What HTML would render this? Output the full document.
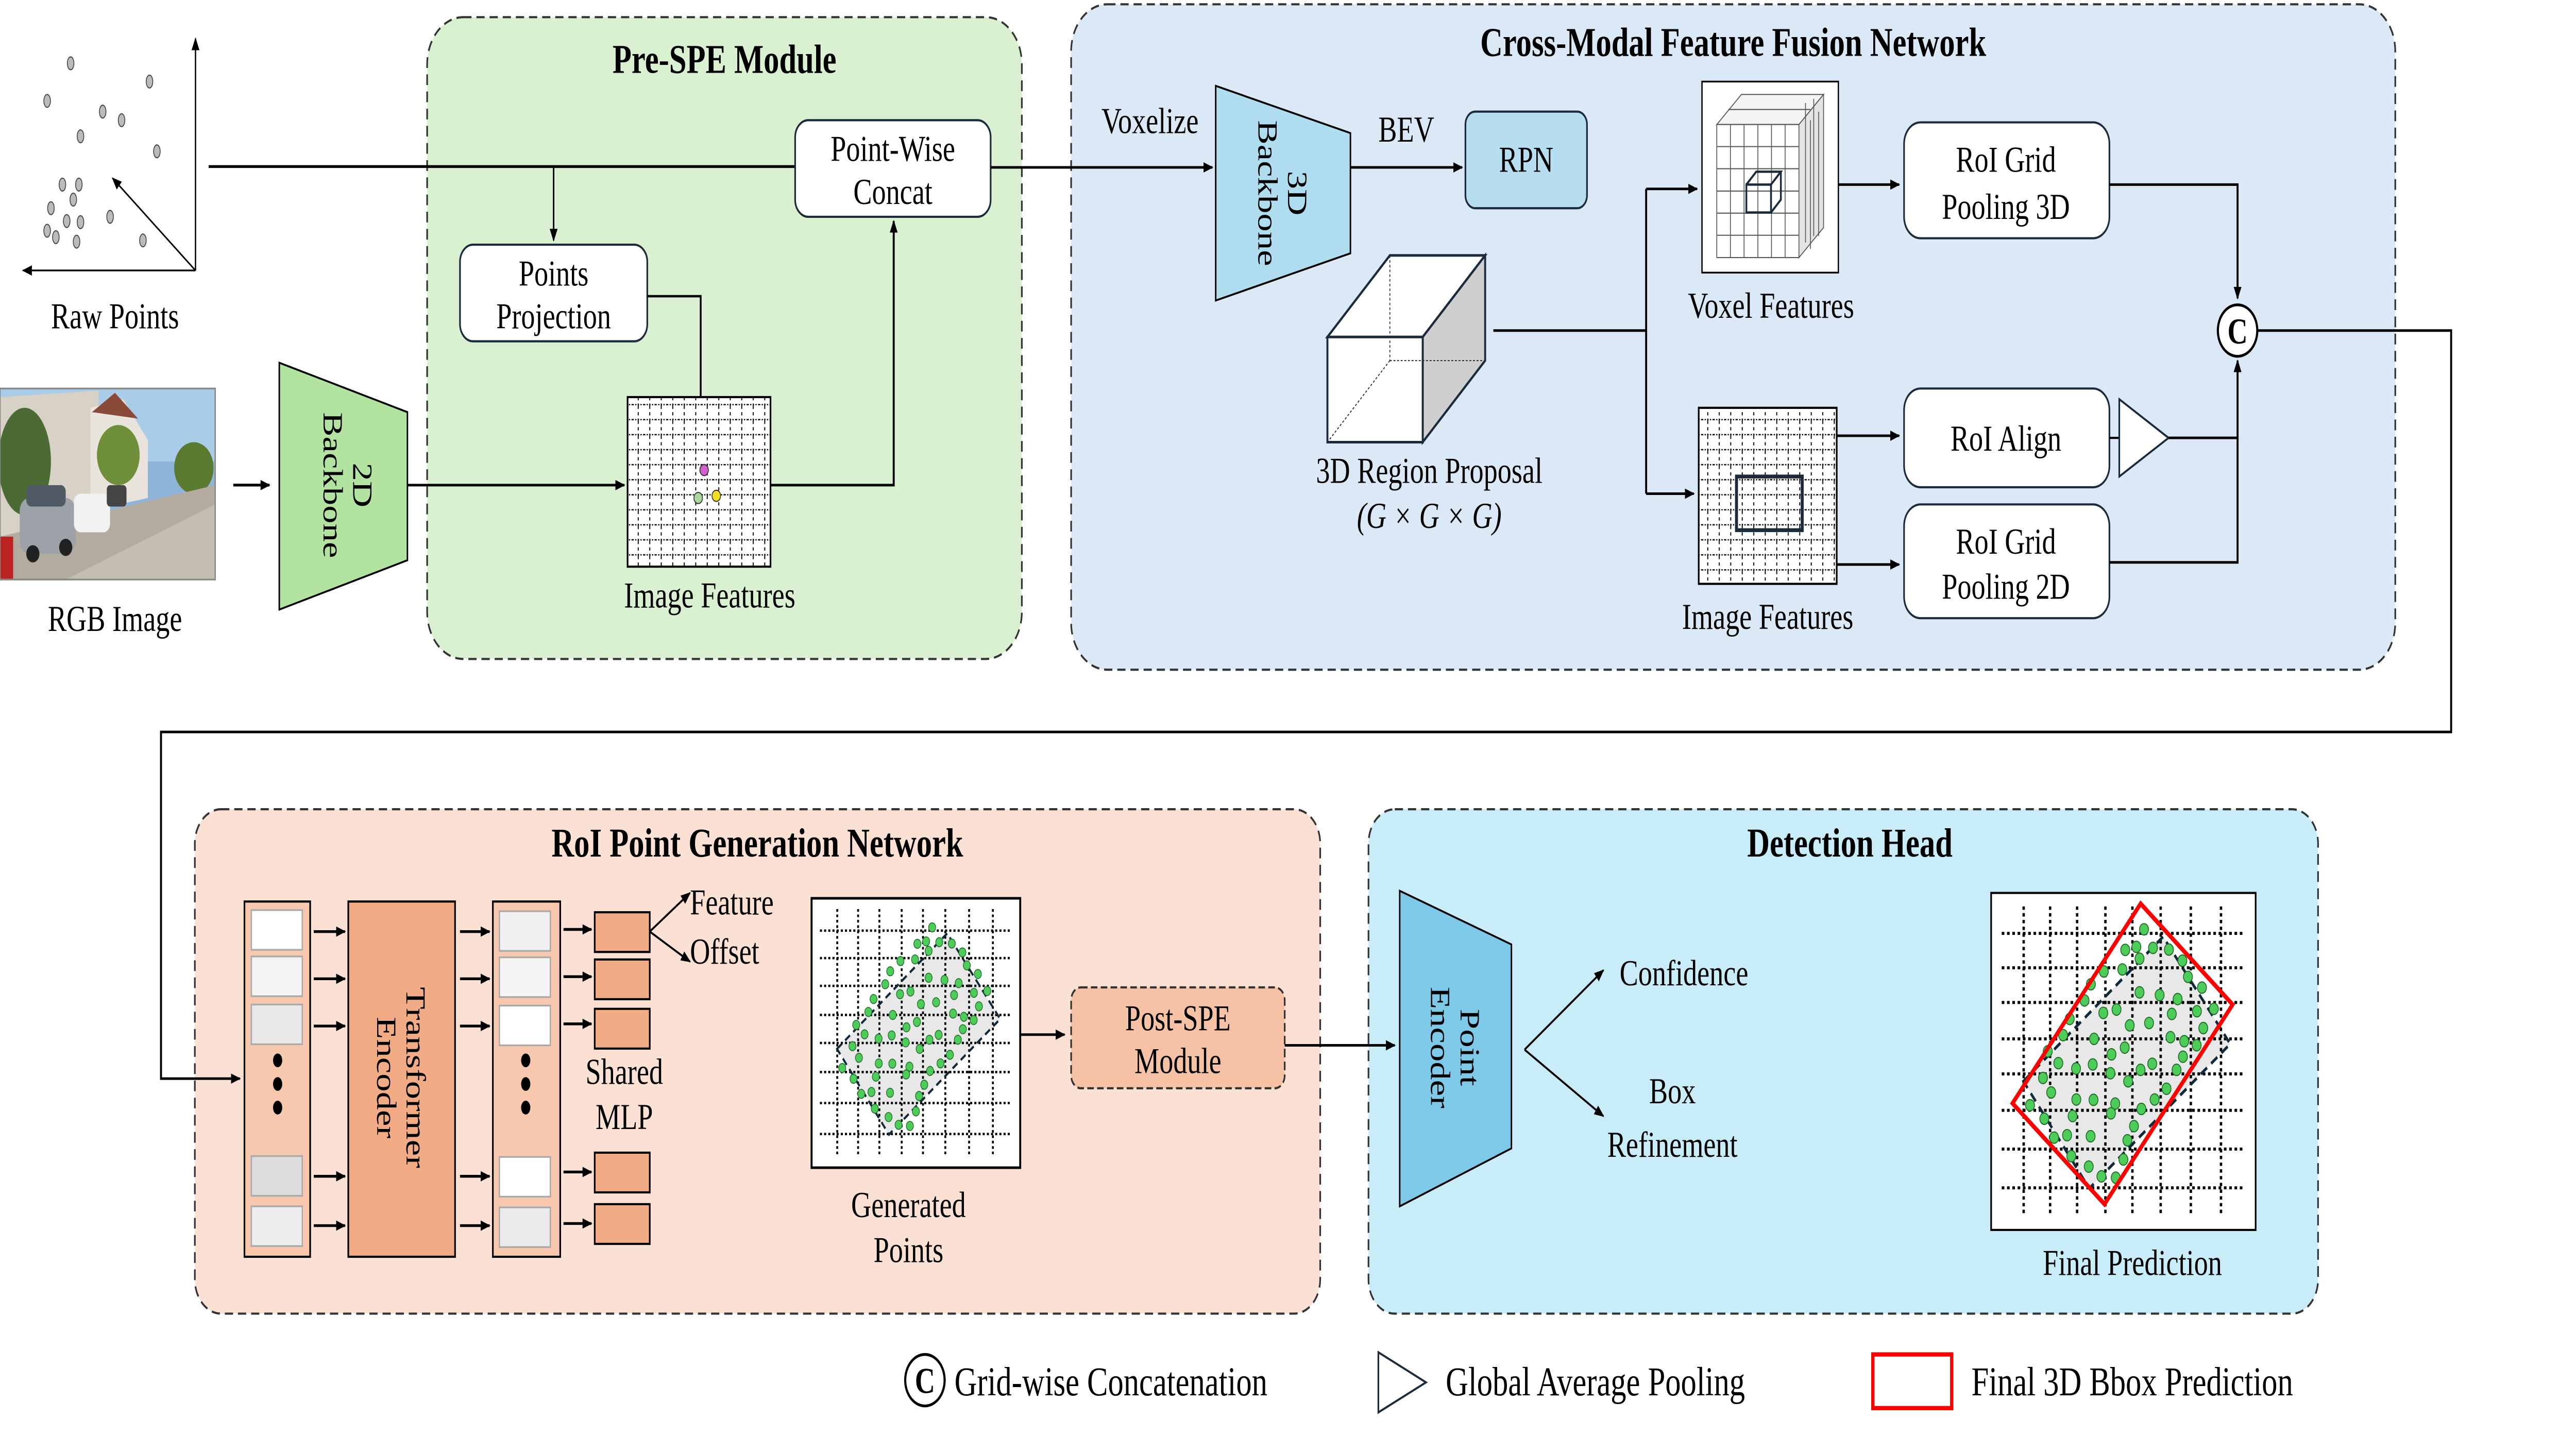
<!DOCTYPE html>
<html><head><meta charset="utf-8">
<style>
html,body{margin:0;padding:0;background:#fff;overflow:hidden;width:100%;height:100%;}
svg{display:block;width:100vw;height:100vh;}
text{font-family:"Liberation Serif",serif;fill:#000;}
.t{font-size:17px;}
.h{font-size:19px;font-weight:bold;}
</style></head>
<body>
<svg viewBox="0 0 1568 669" preserveAspectRatio="none" xmlns="http://www.w3.org/2000/svg">
<defs>
<marker id="ar" viewBox="0 0 10 10" refX="9" refY="5" markerWidth="6" markerHeight="6" orient="auto-start-reverse" markerUnits="userSpaceOnUse">
<path d="M0,1 L10,5 L0,9 z" fill="#000"/></marker>
<pattern id="fine" width="7" height="7" patternUnits="userSpaceOnUse">
<rect width="7" height="7" fill="#fff"/>
<path d="M0,6.5 H7" stroke="#000" stroke-width="0.6" stroke-dasharray="0.8 0.8"/>
<path d="M3.5,0 V7" stroke="#000" stroke-width="0.6" stroke-dasharray="1.5 1.5"/>
</pattern>
<symbol id="cloud" viewBox="0 0 100 100" preserveAspectRatio="none">
<rect x="0" y="0" width="100" height="100" fill="#fff"/>
<polygon points="12.2,55.9 65,13 90.4,44.8 37.1,87.7" fill="#e8e8e8"/>
<g stroke="#000" stroke-width="0.9" stroke-dasharray="1 1">
<path d="M12.3,4V96M22.3,4V96M32.5,4V96M43.2,4V96M53.4,4V96M64.1,4V96M75.5,4V96M86.9,4V96"/>
<path d="M4,12H95M4,22.2H95M4,32.5H95M4,43.3H95M4,53.7H95M4,64.5H95M4,76H95M4,87.5H95"/>
</g>
<polygon points="12.2,55.9 65,13 90.4,44.8 37.1,87.7" fill="none" stroke="#102a3a" stroke-width="0.9" stroke-dasharray="3 2"/>
<g fill="#4dcc5a" stroke="#1d6a25" stroke-width="0.3">
<circle cx="57.8" cy="10.8" r="1.7"/><circle cx="50.7" cy="16.9" r="1.7"/><circle cx="54.9" cy="16" r="1.7"/><circle cx="61.2" cy="16.3" r="1.7"/><circle cx="67.2" cy="16.8" r="1.7"/><circle cx="56.1" cy="19.5" r="1.7"/><circle cx="72.3" cy="20.1" r="1.7"/><circle cx="49.6" cy="22.7" r="1.7"/><circle cx="42.6" cy="23.3" r="1.7"/><circle cx="74.4" cy="24.9" r="1.7"/><circle cx="37.7" cy="27.1" r="1.7"/><circle cx="79.7" cy="28.1" r="1.7"/><circle cx="35.3" cy="31.9" r="1.7"/><circle cx="56.1" cy="29.5" r="1.7"/><circle cx="63.7" cy="30.3" r="1.7"/><circle cx="70.5" cy="31.5" r="1.7"/><circle cx="84.2" cy="34.4" r="1.7"/><circle cx="42.4" cy="35.6" r="1.7"/><circle cx="47.4" cy="34.6" r="1.7"/><circle cx="68.3" cy="35.9" r="1.7"/><circle cx="77.8" cy="35.1" r="1.7"/><circle cx="29.7" cy="37.4" r="1.7"/><circle cx="52.4" cy="39.3" r="1.7"/><circle cx="59.7" cy="38.6" r="1.7"/><circle cx="80.2" cy="40.1" r="1.7"/><circle cx="27.2" cy="42.2" r="1.7"/><circle cx="38.9" cy="43.3" r="1.7"/><circle cx="67.8" cy="42.8" r="1.7"/><circle cx="73" cy="44" r="1.7"/><circle cx="77.7" cy="45.2" r="1.7"/><circle cx="50.5" cy="45.9" r="1.7"/><circle cx="21.4" cy="47" r="1.7"/><circle cx="45.5" cy="47.9" r="1.7"/><circle cx="72.5" cy="48.6" r="1.7"/><circle cx="25.4" cy="50.5" r="1.7"/><circle cx="32.1" cy="52.1" r="1.7"/><circle cx="38.4" cy="50.9" r="1.7"/><circle cx="60.9" cy="50.7" r="1.7"/><circle cx="56.5" cy="52.5" r="1.7"/><circle cx="70.1" cy="52.5" r="1.7"/><circle cx="45.1" cy="53.5" r="1.7"/><circle cx="19.6" cy="54.9" r="1.7"/><circle cx="51.8" cy="55.9" r="1.7"/><circle cx="22.7" cy="59.2" r="1.7"/><circle cx="66.3" cy="58.1" r="1.7"/><circle cx="32.2" cy="61.3" r="1.7"/><circle cx="38.7" cy="61.4" r="1.7"/><circle cx="46.9" cy="62.5" r="1.7"/><circle cx="61.8" cy="61.3" r="1.7"/><circle cx="14.7" cy="63" r="1.7"/><circle cx="45.3" cy="65.4" r="1.7"/><circle cx="56.8" cy="64.1" r="1.7"/><circle cx="30.8" cy="66.2" r="1.7"/><circle cx="20.1" cy="67" r="1.7"/><circle cx="54" cy="69.2" r="1.7"/><circle cx="23.8" cy="72.6" r="1.7"/><circle cx="28.7" cy="71.9" r="1.7"/><circle cx="37.6" cy="72.2" r="1.7"/><circle cx="51.5" cy="73.4" r="1.7"/><circle cx="30.3" cy="78.1" r="1.7"/><circle cx="50" cy="79.1" r="1.7"/><circle cx="36.9" cy="81.2" r="1.7"/><circle cx="41.7" cy="84.1" r="1.7"/><circle cx="47.1" cy="84.5" r="1.7"/>
</g>
</symbol>
</defs>

<rect x="260" y="8" width="362" height="299" rx="22" fill="#d9f1d0" stroke="#333" stroke-width="1" stroke-dasharray="5 3"/>
<rect x="652" y="2" width="806" height="310" rx="22" fill="#dbe8f5" stroke="#333" stroke-width="1" stroke-dasharray="5 3"/>
<rect x="118.6" y="377" width="685" height="235" rx="16" fill="#fbe1d4" stroke="#333" stroke-width="1" stroke-dasharray="5 3"/>
<rect x="833" y="377" width="578" height="235" rx="16" fill="#c9ecf9" stroke="#333" stroke-width="1" stroke-dasharray="5 3"/>

<text class="h" x="441" y="34" text-anchor="middle">Pre-SPE Module</text>
<text class="h" x="1055" y="26" text-anchor="middle">Cross-Modal Feature Fusion Network</text>
<text class="h" x="461" y="399" text-anchor="middle">RoI Point Generation Network</text>
<text class="h" x="1126" y="399" text-anchor="middle">Detection Head</text>

<g stroke="#000" stroke-width="0.8" fill="none">
<line x1="119" y1="126" x2="119" y2="18" marker-end="url(#ar)"/>
<line x1="119" y1="126" x2="14" y2="126" marker-end="url(#ar)"/>
<line x1="119" y1="126" x2="68.5" y2="83" marker-end="url(#ar)"/>
</g>
<g fill="#bbb" stroke="#444" stroke-width="0.5">
<ellipse cx="43" cy="29.5" rx="2" ry="3"/><ellipse cx="91" cy="38" rx="2" ry="3"/><ellipse cx="28.7" cy="47" rx="2" ry="3"/><ellipse cx="62.5" cy="52" rx="2" ry="3"/><ellipse cx="74" cy="56" rx="2" ry="3"/><ellipse cx="49" cy="63.5" rx="2" ry="3"/><ellipse cx="95.5" cy="70.5" rx="2" ry="3"/><ellipse cx="38" cy="86" rx="2" ry="3"/><ellipse cx="48" cy="86" rx="2" ry="3"/><ellipse cx="44.6" cy="93" rx="2" ry="3"/><ellipse cx="31" cy="97" rx="2" ry="3"/><ellipse cx="40.6" cy="103" rx="2" ry="3"/><ellipse cx="49" cy="103.5" rx="2" ry="3"/><ellipse cx="67" cy="101" rx="2" ry="3"/><ellipse cx="28.7" cy="107.5" rx="2" ry="3"/><ellipse cx="34" cy="110.5" rx="2" ry="3"/><ellipse cx="46.6" cy="112.6" rx="2" ry="3"/><ellipse cx="87" cy="112" rx="2" ry="3"/>
</g>
<text class="t" x="70" y="153" text-anchor="middle">Raw Points</text>

<g>
<rect x="0" y="181" width="131" height="89" fill="#8fb6d8"/>
<polygon points="0,181 131,181 131,215 0,215" fill="#a9cde8"/>
<polygon points="0,185 60,182 60,240 0,250" fill="#d8d2c6"/>
<polygon points="55,190 75,186 90,205 90,232 55,238" fill="#e8e4dc"/>
<polygon points="56,192 70,183 84,195" fill="#8a4a3a"/>
<ellipse cx="15" cy="215" rx="16" ry="25" fill="#4c6a34"/>
<ellipse cx="72" cy="212" rx="13" ry="14" fill="#6f8f3a"/>
<ellipse cx="118" cy="218" rx="12" ry="12" fill="#5a7a30"/>
<polygon points="0,250 131,226 131,270 0,270" fill="#b3aba0"/>
<polygon points="40,270 131,235 131,270" fill="#c4bdb2"/>
<rect x="12" y="232" width="34" height="26" rx="6" fill="#9ca2a8"/>
<rect x="16" y="226" width="24" height="10" rx="3" fill="#505a64"/>
<rect x="45" y="230" width="22" height="18" rx="4" fill="#f2f2f2"/>
<rect x="65" y="226" width="12" height="10" rx="2" fill="#444"/>
<circle cx="20" cy="258" r="4" fill="#222"/><circle cx="40" cy="255" r="4" fill="#222"/>
<rect x="0" y="250" width="8" height="20" fill="#b22"/>
<rect x="0" y="181" width="131" height="89" fill="none" stroke="#888" stroke-width="0.8"/>
</g>
<text class="t" x="70" y="294" text-anchor="middle">RGB Image</text>

<line x1="142" y1="226" x2="164" y2="226" stroke="#000" stroke-width="1.3" marker-end="url(#ar)"/>
<polygon points="170,169 248,192 248,261 170,284" fill="#b3e3a0" stroke="#000" stroke-width="0.9"/>
<text class="t" transform="translate(212,226) rotate(90)" x="0" y="-3" text-anchor="middle">2D</text>
<text class="t" transform="translate(212,226) rotate(90)" x="0" y="15" text-anchor="middle">Backbone</text>
<line x1="248" y1="226" x2="380" y2="226" stroke="#000" stroke-width="1.2" marker-end="url(#ar)"/>

<line x1="127" y1="77.6" x2="484" y2="77.6" stroke="#000" stroke-width="1.3"/>
<line x1="337" y1="77.6" x2="337" y2="112" stroke="#000" stroke-width="0.9" marker-end="url(#ar)"/>
<rect x="280" y="114" width="114" height="45" rx="8" fill="#fff" stroke="#1b2b3b" stroke-width="1"/>
<text class="t" x="337" y="133" text-anchor="middle">Points</text>
<text class="t" x="337" y="153" text-anchor="middle">Projection</text>
<polyline points="394,138 426.5,138 426.5,185" fill="none" stroke="#000" stroke-width="1.1"/>
<rect x="382" y="185" width="87" height="79" fill="url(#fine)" stroke="#000" stroke-width="1"/>
<circle cx="428.6" cy="219" r="2.6" fill="#d060d0" stroke="#333" stroke-width="0.5"/>
<circle cx="425" cy="232" r="2.6" fill="#a8d8a0" stroke="#333" stroke-width="0.5"/>
<circle cx="436" cy="231" r="2.6" fill="#f0e020" stroke="#333" stroke-width="0.5"/>
<text class="t" x="432" y="283" text-anchor="middle">Image Features</text>
<polyline points="469,226 544,226 544,103" fill="none" stroke="#000" stroke-width="1.2" marker-end="url(#ar)"/>
<rect x="484" y="56" width="119" height="45" rx="8" fill="#fff" stroke="#1b2b3b" stroke-width="1"/>
<text class="t" x="543.5" y="75" text-anchor="middle">Point-Wise</text>
<text class="t" x="543.5" y="95" text-anchor="middle">Concat</text>

<line x1="603" y1="78" x2="738" y2="78" stroke="#000" stroke-width="1.2" marker-end="url(#ar)"/>
<text class="t" x="700" y="62" text-anchor="middle">Voxelize</text>
<polygon points="740,40 822,62 822,118 740,140" fill="#b0dcf0" stroke="#000" stroke-width="0.9"/>
<text class="t" transform="translate(781,90) rotate(90)" x="0" y="-3" text-anchor="middle">3D</text>
<text class="t" transform="translate(781,90) rotate(90)" x="0" y="15" text-anchor="middle">Backbone</text>
<line x1="822" y1="78" x2="890" y2="78" stroke="#000" stroke-width="1.2" marker-end="url(#ar)"/>
<text class="t" x="856" y="66" text-anchor="middle">BEV</text>
<rect x="892" y="52" width="74" height="45" rx="6" fill="#b6ddf0" stroke="#1b2b3b" stroke-width="1"/>
<text class="t" x="929" y="80" text-anchor="middle">RPN</text>

<polygon points="808,157 846,119 904,119 866,157" fill="#fff" stroke="#1b2b3b" stroke-width="1.2"/>
<polygon points="866,157 904,119 904,168 866,206" fill="#cfcfcf" stroke="#1b2b3b" stroke-width="1.2"/>
<rect x="808" y="157" width="58" height="49" fill="#fff" stroke="#1b2b3b" stroke-width="1.2"/>
<g stroke="#1b2b3b" stroke-width="0.5" stroke-dasharray="1.2 1">
<line x1="846" y1="119" x2="846" y2="168"/><line x1="846" y1="168" x2="904" y2="168"/><line x1="846" y1="168" x2="809" y2="205"/>
</g>
<text class="t" x="870" y="225" text-anchor="middle">3D Region Proposal</text>
<text class="t" x="870" y="246" text-anchor="middle" font-style="italic">(G × G × G)</text>
<polyline points="909,154 1002,154" fill="none" stroke="#000" stroke-width="1.2"/>
<line x1="1002" y1="88" x2="1002" y2="230" stroke="#000" stroke-width="1.2"/>
<line x1="1002" y1="88" x2="1033" y2="88" stroke="#000" stroke-width="1.2" marker-end="url(#ar)"/>
<line x1="1002" y1="230" x2="1031" y2="230" stroke="#000" stroke-width="1.2" marker-end="url(#ar)"/>

<rect x="1036" y="38" width="83" height="89" fill="#fff" stroke="#000" stroke-width="0.8"/>
<g stroke="#555" stroke-width="0.5">
<polygon points="1045,58 1060,44 1110,44 1095,58" fill="#f4f4f4"/>
<polygon points="1095,58 1110,44 1110,106 1095,120" fill="#e4e4e4"/>
<rect x="1045" y="58" width="50" height="62" fill="#fff"/>
<path d="M1053.3,58V120M1061.6,58V120M1070,58V120M1078.3,58V120M1086.6,58V120M1045,68.3H1095M1045,78.6H1095M1045,89H1095M1045,99.3H1095M1045,109.6H1095" fill="none"/>
<path d="M1052,51H1102M1099,48V113M1104,46V110M1102,56V116M1107,52V110" fill="none"/>
</g>
<g stroke="#1b2b3b" stroke-width="1.1" fill="none">
<rect x="1063" y="86" width="15" height="13"/><polyline points="1063,86 1069,80 1084,80 1078,86"/><polyline points="1084,80 1084,93 1078,99"/>
</g>
<text class="t" x="1078" y="148" text-anchor="middle">Voxel Features</text>

<rect x="1034" y="190" width="84" height="82" fill="url(#fine)" stroke="#000" stroke-width="1"/>
<rect x="1057" y="222" width="40" height="25" fill="none" stroke="#1b2b3b" stroke-width="1.8"/>
<text class="t" x="1076" y="293" text-anchor="middle">Image Features</text>

<line x1="1119" y1="86" x2="1156" y2="86" stroke="#000" stroke-width="1.2" marker-end="url(#ar)"/>
<rect x="1159" y="57" width="125" height="54" rx="10" fill="#fff" stroke="#1b2b3b" stroke-width="1"/>
<text class="t" x="1221" y="80" text-anchor="middle">RoI Grid</text>
<text class="t" x="1221" y="102" text-anchor="middle">Pooling 3D</text>
<line x1="1118" y1="203" x2="1156" y2="203" stroke="#000" stroke-width="1.2" marker-end="url(#ar)"/>
<rect x="1159" y="181" width="125" height="46" rx="10" fill="#fff" stroke="#1b2b3b" stroke-width="1"/>
<text class="t" x="1221" y="210" text-anchor="middle">RoI Align</text>
<line x1="1118" y1="263" x2="1156" y2="263" stroke="#000" stroke-width="1.2" marker-end="url(#ar)"/>
<rect x="1159" y="235" width="125" height="53" rx="10" fill="#fff" stroke="#1b2b3b" stroke-width="1"/>
<text class="t" x="1221" y="258" text-anchor="middle">RoI Grid</text>
<text class="t" x="1221" y="279" text-anchor="middle">Pooling 2D</text>

<line x1="1284" y1="204" x2="1290" y2="204" stroke="#000" stroke-width="1"/>
<polygon points="1290,186 1320,204 1290,222" fill="#fff" stroke="#1b2b3b" stroke-width="1"/>
<g stroke="#000" stroke-width="1.2" fill="none">
<polyline points="1284,86 1362,86 1362,139" marker-end="url(#ar)"/>
<polyline points="1320,204 1362,204 1362,168" marker-end="url(#ar)"/>
<polyline points="1284,262 1362,262 1362,204"/>
<polyline points="1374,154 1492,154 1492,341 98,341 98,502.5 146,502.5" marker-end="url(#ar)"/>
</g>
<circle cx="1362" cy="154" r="12" fill="#fff" stroke="#000" stroke-width="1.3"/>
<text x="1362" y="160" text-anchor="middle" font-size="17" font-weight="bold">C</text>

<rect x="148.8" y="420" width="40" height="165.5" fill="#f7c8ae" stroke="#000" stroke-width="1"/>
<rect x="300" y="420" width="41" height="165.5" fill="#f7c8ae" stroke="#000" stroke-width="1"/>
<g stroke="#aaa" stroke-width="0.8">
<rect x="153" y="424" width="31" height="18.5" fill="#fff"/><rect x="153" y="445.6" width="31" height="18.5" fill="#f4f4f4"/><rect x="153" y="468" width="31" height="18.5" fill="#e8e8e8"/><rect x="153" y="538.6" width="31" height="18.5" fill="#dcdcdc"/><rect x="153" y="562" width="31" height="18.5" fill="#eee"/>
<rect x="304" y="424.5" width="31" height="18.5" fill="#f0f0f0"/><rect x="304" y="446" width="31" height="18.5" fill="#f4f4f4"/><rect x="304" y="468.5" width="31" height="18.5" fill="#fff"/><rect x="304" y="539" width="31" height="18.5" fill="#fff"/><rect x="304" y="562.5" width="31" height="18.5" fill="#ebebeb"/>
</g>
<g fill="#000">
<ellipse cx="169" cy="494" rx="2.8" ry="3.2"/><ellipse cx="169" cy="505" rx="2.8" ry="3.2"/><ellipse cx="169" cy="516" rx="2.8" ry="3.2"/>
<ellipse cx="320" cy="494" rx="2.8" ry="3.2"/><ellipse cx="320" cy="505" rx="2.8" ry="3.2"/><ellipse cx="320" cy="516" rx="2.8" ry="3.2"/>
</g>
<rect x="212" y="420" width="65" height="165.5" fill="#f1ab85" stroke="#000" stroke-width="1"/>
<text class="t" transform="translate(244.5,502) rotate(90)" x="0" y="-3" text-anchor="middle">Transformer</text>
<text class="t" transform="translate(244.5,502) rotate(90)" x="0" y="15" text-anchor="middle">Encoder</text>
<g stroke="#000" stroke-width="1.3">
<line x1="191" y1="434" x2="210" y2="434" marker-end="url(#ar)"/><line x1="191" y1="456" x2="210" y2="456" marker-end="url(#ar)"/><line x1="191" y1="478" x2="210" y2="478" marker-end="url(#ar)"/><line x1="191" y1="548" x2="210" y2="548" marker-end="url(#ar)"/><line x1="191" y1="571" x2="210" y2="571" marker-end="url(#ar)"/>
<line x1="280" y1="434" x2="298" y2="434" marker-end="url(#ar)"/><line x1="280" y1="456" x2="298" y2="456" marker-end="url(#ar)"/><line x1="280" y1="478" x2="298" y2="478" marker-end="url(#ar)"/><line x1="280" y1="548" x2="298" y2="548" marker-end="url(#ar)"/><line x1="280" y1="571" x2="298" y2="571" marker-end="url(#ar)"/>
<line x1="343" y1="433" x2="360" y2="433" marker-end="url(#ar)"/><line x1="343" y1="455" x2="360" y2="455" marker-end="url(#ar)"/><line x1="343" y1="477" x2="360" y2="477" marker-end="url(#ar)"/><line x1="343" y1="546" x2="360" y2="546" marker-end="url(#ar)"/><line x1="343" y1="570" x2="360" y2="570" marker-end="url(#ar)"/>
</g>
<g fill="#f1ab85" stroke="#000" stroke-width="1">
<rect x="362" y="425" width="33.5" height="18.5"/><rect x="362" y="447" width="33.5" height="18.5"/><rect x="362" y="470" width="33.5" height="18.5"/><rect x="362" y="537" width="33.5" height="18.5"/><rect x="362" y="561" width="33.5" height="18.5"/>
</g>
<line x1="395.5" y1="434" x2="420" y2="416" stroke="#000" stroke-width="1" marker-end="url(#ar)"/>
<line x1="395.5" y1="434" x2="420" y2="448" stroke="#000" stroke-width="1" marker-end="url(#ar)"/>
<text class="t" x="420" y="426">Feature</text>
<text class="t" x="420" y="449">Offset</text>
<text class="t" x="380" y="505" text-anchor="middle">Shared</text>
<text class="t" x="380" y="526" text-anchor="middle">MLP</text>

<use href="#cloud" x="494" y="418.5" width="127" height="125.5"/>
<rect x="494" y="418.5" width="127" height="125.5" fill="none" stroke="#000" stroke-width="1.2"/>
<text class="t" x="553" y="567" text-anchor="middle">Generated</text>
<text class="t" x="553" y="588" text-anchor="middle">Points</text>
<line x1="621" y1="482" x2="648" y2="482" stroke="#000" stroke-width="1.2" marker-end="url(#ar)"/>
<rect x="652" y="460" width="130" height="47" rx="6" fill="#f5c2a6" stroke="#333" stroke-width="1" stroke-dasharray="4 2"/>
<text class="t" x="717" y="480" text-anchor="middle">Post-SPE</text>
<text class="t" x="717" y="500" text-anchor="middle">Module</text>
<line x1="782" y1="487" x2="849" y2="487" stroke="#000" stroke-width="1.2" marker-end="url(#ar)"/>

<polygon points="852,415 920,440 920,535 852,562" fill="#7ec8e8" stroke="#000" stroke-width="0.9"/>
<text class="t" transform="translate(886,488) rotate(90)" x="0" y="-3" text-anchor="middle">Point</text>
<text class="t" transform="translate(886,488) rotate(90)" x="0" y="15" text-anchor="middle">Encoder</text>
<line x1="928" y1="489" x2="976" y2="452" stroke="#000" stroke-width="1" marker-end="url(#ar)"/>
<line x1="928" y1="489" x2="976" y2="520" stroke="#000" stroke-width="1" marker-end="url(#ar)"/>
<text class="t" x="1025" y="459" text-anchor="middle">Confidence</text>
<text class="t" x="1018" y="514" text-anchor="middle">Box</text>
<text class="t" x="1018" y="539" text-anchor="middle">Refinement</text>

<use href="#cloud" x="1212" y="416" width="161" height="157"/>
<rect x="1212" y="416" width="161" height="157" fill="none" stroke="#000" stroke-width="1"/>
<polygon points="1303,421 1359,468 1281,561 1225,514" fill="none" stroke="#f00" stroke-width="2.2"/>
<text class="t" x="1298" y="594" text-anchor="middle">Final Prediction</text>

<circle cx="563" cy="643" r="12" fill="#fff" stroke="#000" stroke-width="1.3"/>
<text x="563" y="649" text-anchor="middle" font-size="17" font-weight="bold">C</text>
<text x="581" y="650" font-size="19">Grid-wise Concatenation</text>
<polygon points="839,630 868,644 839,658" fill="#fff" stroke="#1b2b3b" stroke-width="1"/>
<text x="880" y="650" font-size="19">Global Average Pooling</text>
<rect x="1140" y="631" width="48" height="25" fill="none" stroke="#f00" stroke-width="2"/>
<text x="1200" y="650" font-size="19">Final 3D Bbox Prediction</text>
</svg>
</body></html>
